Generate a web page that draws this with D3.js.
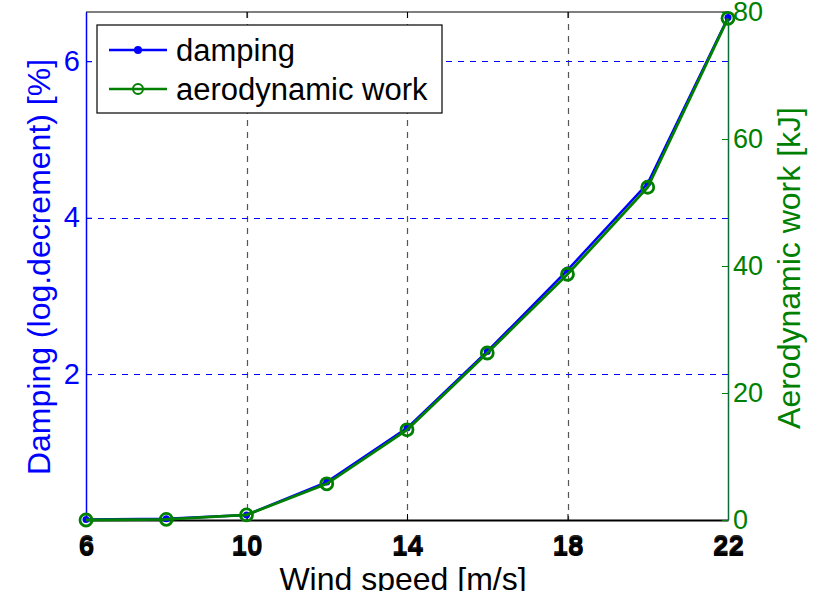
<!DOCTYPE html>
<html lang="en">
<head>
  <meta charset="UTF-8">
  <title>Damping and aerodynamic work</title>
  <script src="https://d3js.org/d3.v7.min.js"></script>
  <style>
    body { margin: 0; background: #fff; overflow: hidden; }
    text { font-family: "Liberation Sans", Arial, sans-serif; }
    .axis-label { font-size: 32px; text-anchor: middle; }
    .legend text { font-size: 31px; fill: #000; }
  </style>
</head>
<body>
  <div id="chart"></div>
  <script>
    const windSpeed = [6, 8, 10, 12, 14, 16, 18, 20, 22];
    const damping = [0.14, 0.15, 0.2, 0.62, 1.31, 2.29, 3.33, 4.44, 6.56];
    const aeroWork = [0, 0.1, 0.8, 5.7, 14.2, 26.3, 38.7, 52.4, 79];
    const xTicks = [6, 10, 14, 18, 22];
    const leftTicks = [2, 4, 6];
    const rightTicks = [0, 20, 40, 60, 80];

    const blue = "#0000ff", green = "#008000";
    const margin = { top: 12, right: 89, bottom: 71, left: 86 },
          width = 817 - margin.left - margin.right,
          height = 591 - margin.top - margin.bottom;

    const svg = d3.select("#chart")
                  .append("svg")
                  .attr("width", 817)
                  .attr("height", 591)
                  .append("g")
                  .attr("transform", `translate(${margin.left},${margin.top})`);

    const x = d3.scaleLinear().domain([6, 22]).range([0, width]);
    const yL = d3.scaleLinear().domain([0.135, 6.63]).range([height, 0]);
    const yR = d3.scaleLinear().domain([0, 80]).range([height, 0]);

    const tickFont = (sel, size) => sel
      .style("font-size", size + "px")
      .style("font-family", "'Liberation Sans', Arial, sans-serif");

    // Grid lines
    svg.selectAll(".vgrid")
       .data(xTicks.slice(1, -1))
       .enter()
       .append("line")
       .attr("x1", d => Math.round(x(d)) + 0.5).attr("x2", d => Math.round(x(d)) + 0.5)
       .attr("y1", 0).attr("y2", height)
       .attr("stroke", "#555").attr("stroke-width", 1.2)
       .attr("stroke-dasharray", "6,6");

    svg.selectAll(".hgrid")
       .data(leftTicks)
       .enter()
       .append("line")
       .attr("x1", 0).attr("x2", width)
       .attr("y1", d => Math.round(yL(d)) + 0.5).attr("y2", d => Math.round(yL(d)) + 0.5)
       .attr("stroke", blue).attr("stroke-width", 1)
       .attr("stroke-dasharray", "6,6");

    // top border
    svg.append("line").attr("x1", 0).attr("x2", width).attr("y1", 0).attr("y2", 0)
       .attr("stroke", "#000").attr("stroke-width", 1.2);

    // x axes (drawn twice, slightly offset, like the overlapping axes of the original)
    [0, 2].forEach((off, i) => {
      const g = svg.append("g")
         .attr("transform", `translate(0,${height + off})`)
         .call(d3.axisBottom(x).tickValues(xTicks).tickFormat(d3.format("d"))
               .tickSizeInner(i === 0 ? -6 : 0).tickSizeOuter(0).tickPadding(14));
      g.select(".domain").attr("stroke", i === 0 ? "#000" : "none").attr("stroke-width", 2.2);
      g.selectAll(".tick line").attr("stroke", "#000");
      g.selectAll(".tick text")
       .call(tickFont, 28)
       .style("font-weight", "bold")
       .attr("fill", i === 0 ? "#222" : "#000");
    });

    // top x ticks
    svg.append("g")
       .call(d3.axisTop(x).tickValues(xTicks).tickSizeInner(-6).tickSizeOuter(0).tickFormat(""))
       .call(g => g.select(".domain").remove())
       .selectAll("line").attr("stroke", "#000");

    // left axis
    const gl = svg.append("g")
       .call(d3.axisLeft(yL).tickValues(leftTicks).tickFormat(d3.format("d"))
             .tickSizeInner(-6).tickSizeOuter(0).tickPadding(6));
    gl.select(".domain").attr("stroke", blue).attr("stroke-width", 1.5);
    gl.selectAll(".tick line").attr("stroke", blue);
    gl.selectAll(".tick text").attr("fill", blue).call(tickFont, 29);

    // right axis
    const gr = svg.append("g")
       .attr("transform", `translate(${width},0)`)
       .call(d3.axisRight(yR).tickValues(rightTicks).tickSizeInner(-6).tickSizeOuter(0).tickPadding(5));
    gr.select(".domain").attr("stroke", "#0b6b3a").attr("stroke-width", 1.5);
    gr.selectAll(".tick line").attr("stroke", green);
    gr.selectAll(".tick text").attr("fill", green).call(tickFont, 27);

    // Axis labels
    svg.append("text")
       .attr("class", "axis-label")
       .attr("x", 403 - margin.left)
       .attr("y", 590 - margin.top)
       .attr("fill", "#000")
       .text("Wind speed [m/s]");

    svg.append("text")
       .attr("class", "axis-label")
       .attr("transform", "rotate(-90)")
       .attr("x", -(267 - margin.top))
       .attr("y", 50 - margin.left)
       .attr("fill", blue)
       .text("Damping (log.decrement) [%]");

    svg.append("text")
       .attr("class", "axis-label")
       .attr("transform", "rotate(-90)")
       .attr("x", -(268 - margin.top))
       .attr("y", 800 - margin.left)
       .attr("fill", green)
       .text("Aerodynamic work [kJ]");

    const dampData = windSpeed.map((w, i) => ({ w, v: damping[i] }));
    const workData = windSpeed.map((w, i) => ({ w, v: aeroWork[i] }));

    // Damping line
    svg.append("path")
       .datum(dampData)
       .attr("fill", "none")
       .attr("stroke", blue)
       .attr("stroke-width", 2.5)
       .attr("d", d3.line().x(d => x(d.w)).y(d => yL(d.v)));

    svg.selectAll(".dot")
       .data(dampData)
       .enter()
       .append("circle")
       .attr("cx", d => x(d.w))
       .attr("cy", d => yL(d.v))
       .attr("r", 3.5)
       .attr("fill", blue);

    // Aerodynamic work line
    svg.append("path")
       .datum(workData)
       .attr("fill", "none")
       .attr("stroke", green)
       .attr("stroke-width", 2.8)
       .attr("d", d3.line().x(d => x(d.w)).y(d => yR(d.v)));

    svg.selectAll(".circ")
       .data(workData)
       .enter()
       .append("circle")
       .attr("cx", d => x(d.w))
       .attr("cy", d => yR(d.v))
       .attr("r", 6)
       .attr("fill", "none")
       .attr("stroke", green)
       .attr("stroke-width", 2.8);

    // Legend
    const lg = svg.append("g").attr("class", "legend").attr("transform", "translate(11,13)");
    lg.append("rect")
      .attr("width", 345).attr("height", 88)
      .attr("fill", "#fff").attr("stroke", "#000").attr("stroke-width", 1.2);

    const items = [
      { name: "damping", color: blue, marker: "dot" },
      { name: "aerodynamic work", color: green, marker: "circle" }
    ];
    items.forEach((it, i) => {
      const yy = 25 + i * 39;
      lg.append("line").attr("x1", 12).attr("x2", 70).attr("y1", yy).attr("y2", yy)
        .attr("stroke", it.color).attr("stroke-width", 2.5);
      if (it.marker === "dot") {
        lg.append("circle").attr("cx", 41).attr("cy", yy).attr("r", 4).attr("fill", it.color);
      } else {
        lg.append("circle").attr("cx", 41).attr("cy", yy).attr("r", 5)
          .attr("fill", "none").attr("stroke", it.color).attr("stroke-width", 2);
      }
      lg.append("text").attr("x", 79).attr("y", yy + 11).text(it.name);
    });
  </script>
</body>
</html>
